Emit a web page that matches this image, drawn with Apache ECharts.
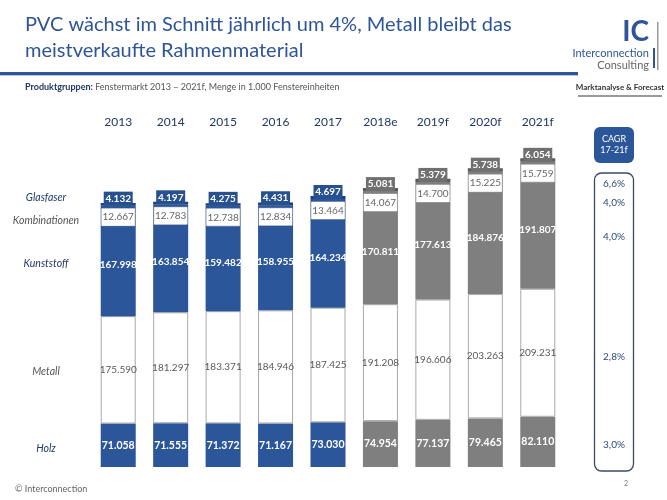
<!DOCTYPE html>
<html>
<head>
<meta charset="utf-8">
<script src="https://cdn.jsdelivr.net/npm/echarts@6/dist/echarts.min.js"></script>
<style>html,body{margin:0;padding:0;background:#fff}#c{width:667px;height:500px}</style>
</head>
<body>
<div id="c"></div>
<script>
const years = ['2013','2014','2015','2016','2017','2018e','2019f','2020f','2021f'];
const isForecast = [false,false,false,false,false,true,true,true,true];
const holz = [71058,71555,71372,71167,73030,74954,77137,79465,82110];
const metall = [175590,181297,183371,184946,187425,191208,196606,203263,209231];
const kunststoff = [167998,163854,159482,158955,164234,170811,177613,184876,191807];
const kombinationen = [12667,12783,12738,12834,13464,14067,14700,15225,15759];
const glasfaser = [4132,4197,4275,4431,4697,5081,5379,5738,6054];
const seriesNames = ['Holz','Metall','Kunststoff','Kombinationen','Glasfaser'];
const cagrLabels = ['6,6%','4,0%','4,0%','2,8%','3,0%'];

const FONT = 'Lato, "Noto Sans", sans-serif';
const BLUE = '#2b5699', GREY = '#7f7f7f';
const BLUE_D = '#1d3f75', GREY_D = '#5a5a5a';
const BLUE_BOX = '#27508f', GREY_BOX = '#707070';
const fmt = v => String(v).replace(/\B(?=(\d{3})+(?!\d))/g, '.');

function colored(arr, c1, c2){
  return arr.map((v,i)=>({value:v, itemStyle:{color: isForecast[i]?c2:c1}}));
}

const chart = echarts.init(document.getElementById('c'), null, {renderer:'canvas'});
const base = {type:'bar', stack:'t', barWidth:35, animation:false};
chart.setOption({
  animation:false,
  grid:{left:92, right:103, top:100, bottom:33},
  xAxis:{type:'category', data:years, position:'top', offset:-30,
    axisLine:{show:false}, axisTick:{show:false},
    axisLabel:{margin:2, color:'#1f3864', fontSize:12, fontFamily:FONT}},
  yAxis:{type:'value', min:0, max:600000, show:false, splitLine:{show:false}},
  series:[
    Object.assign({}, base, {name:seriesNames[0], data:colored(holz,BLUE,GREY),
      label:{show:true, position:'inside', color:'#fff', fontSize:10.5, fontWeight:'bold', fontFamily:FONT, formatter:p=>fmt(p.value)}}),
    Object.assign({}, base, {name:seriesNames[1], data:metall,
      itemStyle:{color:'#fff', borderColor:'#a9a9a9', borderWidth:1},
      label:{show:true, position:'inside', color:'#595959', fontSize:10, fontFamily:FONT, formatter:p=>fmt(p.value)}}),
    Object.assign({}, base, {name:seriesNames[2], data:colored(kunststoff,BLUE,GREY),
      label:{show:true, position:'inside', color:'#fff', fontSize:10, fontWeight:'bold', fontFamily:FONT, formatter:p=>fmt(p.value)}}),
    Object.assign({}, base, {name:seriesNames[3], data:colored(kombinationen,BLUE,GREY),
      label:{show:true, position:'insideTop', distance:3, color:'#666', fontSize:10, fontFamily:FONT,
        backgroundColor:'#fff', borderColor:'#bbb', borderWidth:0.5, width:33, height:17, lineHeight:17, align:'center',
        formatter:p=>fmt(p.value)}}),
    Object.assign({}, base, {name:seriesNames[4], data:colored(glasfaser,BLUE_D,GREY_D),
      label:{show:true, position:'insideBottom', distance:0, color:'#fff', fontSize:10, fontWeight:'bold', fontFamily:FONT,
        width:29, height:14, lineHeight:14, align:'center',
        backgroundColor:{}, formatter:p=>fmt(p.value)}})
  ]
});
// set Glasfaser label box colours per bar
chart.setOption({series:[{},{},{},{},{data:glasfaser.map((v,i)=>({value:v,
  itemStyle:{color:isForecast[i]?GREY_D:BLUE_D},
  label:{backgroundColor:isForecast[i]?GREY_BOX:BLUE_BOX}}))}]});

// left-side labels aligned to the first bar's segments
const segs = [holz[0], metall[0], kunststoff[0], kombinationen[0], glasfaser[0]];
let cum = 0; const ys = [];
segs.forEach((v,i)=>{ ys.push([cum, cum+v]); cum += v; });
const px = v => chart.convertToPixel({gridIndex:0},[0,v])[1];
const leftY = [
  (px(ys[0][0])+px(ys[0][1]))/2 + 3,
  (px(ys[1][0])+px(ys[1][1]))/2 + 2,
  (px(ys[2][0])+px(ys[2][1]))/2 - 1,
  px(ys[3][1]) + 15,
  px(ys[4][0]) - 8
];
const leftColors = ['#1f3a6e','#555','#1f3a6e','#555','#1f3a6e'];

const g = [];
function txt(text, x, y, opt){
  g.push({type:'text', silent:true, style:Object.assign({text, x, y, fill:'#333', font:'12px '+FONT,
    textAlign:'left', textVerticalAlign:'middle', align:'left', verticalAlign:'middle'}, opt||{})});
}
function rect(x,y,w,h,style,r){ g.push({type:'rect', silent:true, shape:{x,y,width:w,height:h,r:r||0}, style}); }

seriesNames.forEach((n,i)=>{
  txt(n, 46, leftY[i], {fill:leftColors[i], font:'italic 10.5px '+FONT, textAlign:'center', align:'center'});
});

// title
txt('PVC wächst im Schnitt jährlich um 4%, Metall bleibt das', 25, 25, {fill:'#2e5597', font:'20px '+FONT});
txt('meistverkaufte Rahmenmaterial', 25, 51, {fill:'#2e5597', font:'20px '+FONT});
rect(0, 72, 578, 3, {fill:'#2e5597'});
rect(0, 75, 578, 1, {fill:'#b8c3d6'});
g.push({type:'text', silent:true, style:{x:25, y:87, text:'{b|Produktgruppen:} Fenstermarkt 2013 – 2021f, Menge in 1.000 Fenstereinheiten',
  fill:'#555', font:'9px '+FONT, textVerticalAlign:'middle', verticalAlign:'middle',
  rich:{b:{fill:'#1f3864', fontWeight:'bold', fontSize:9, fontFamily:FONT}}}});

// logo
txt('IC', 649, 32, {fill:'#2e5597', font:'bold 28px '+FONT, textAlign:'right', align:'right'});
txt('Interconnection', 649, 53, {fill:'#2e5597', font:'11px '+FONT, textAlign:'right', align:'right'});
txt('Consulting', 649, 65, {fill:'#666', font:'11px '+FONT, textAlign:'right', align:'right'});
rect(657, 22, 1.5, 48, {fill:'#999'});
rect(653, 48, 2, 20, {fill:'#2e5597'});
txt('Marktanalyse & Forecast', 620, 87, {fill:'#333', font:'bold 8px '+FONT, textAlign:'center', align:'center'});
rect(578, 95, 84, 2, {fill:'#9a9a9a'});

// CAGR
rect(594, 127, 40, 36, {fill:'#2b5699'}, 6);
txt('CAGR\n17-21f', 614, 145, {fill:'#fff', font:'9px '+FONT, textAlign:'center', align:'center', lineHeight:11});
rect(594.5, 173, 39, 298, {fill:'none', stroke:'#3a4a66', lineWidth:1.3}, 7);
const cagrY = [184,203,237,357,445];
cagrLabels.forEach((t,i)=>{
  txt(t, 614, cagrY[i], {fill:'#2e4a7a', font:'10px '+FONT, textAlign:'center', align:'center'});
});

// footer
txt('© Interconnection', 15, 489, {fill:'#666', font:'9px '+FONT});
txt('2', 626, 484, {fill:'#777', font:'7px '+FONT, textAlign:'center', align:'center'});

chart.setOption({graphic:{elements:g}});
</script>
</body>
</html>
